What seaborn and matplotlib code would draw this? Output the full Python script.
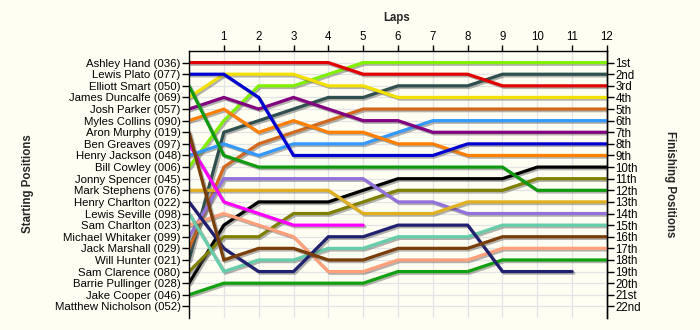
import matplotlib
matplotlib.use("Agg")
import matplotlib.pyplot as plt
import matplotlib.patheffects as pe
import numpy as np
import pandas as pd
import seaborn as sns

laps = list(range(13))
lap_ticks = list(range(1, 13))

starting_labels = [
    "Ashley Hand (036)", "Lewis Plato (077)", "Elliott Smart (050)",
    "James Duncalfe (069)", "Josh Parker (057)", "Myles Collins (090)",
    "Aron Murphy (019)", "Ben Greaves (097)", "Henry Jackson (048)",
    "Bill Cowley (006)", "Jonny Spencer (045)", "Mark Stephens (076)",
    "Henry Charlton (022)", "Lewis Seville (098)", "Sam Charlton (023)",
    "Michael Whitaker (099)", "Jack Marshall (029)", "Will Hunter (021)",
    "Sam Clarence (080)", "Barrie Pullinger (028)", "Jake Cooper (046)",
    "Matthew Nicholson (052)",
]
finishing_labels = [
    "1st", "2nd", "3rd", "4th", "5th", "6th", "7th", "8th", "9th", "10th",
    "11th", "12th", "13th", "14th", "15th", "16th", "17th", "18th", "19th",
    "20th", "21st", "22nd",
]

N = None
ashley_hand      = [1, 1, 1, 1, 1, 2, 2, 2, 2, 3, 3, 3, 3]
lewis_plato      = [2, 2, 4, 9, 9, 9, 9, 9, 8, 8, 8, 8, 8]
elliott_smart    = [3, 9, 10, 10, 10, 10, 10, 10, 10, 10, 12, 12, 12]
james_duncalfe   = [4, 2, 2, 2, 3, 3, 4, 4, 4, 4, 4, 4, 4]
josh_parker      = [5, 4, 5, 4, 5, 6, 6, 7, 7, 7, 7, 7, 7]
myles_collins    = [6, 5, 7, 6, 7, 7, 8, 8, 9, 9, 9, 9, 9]
aron_murphy      = [7, 18, 17, 17, 18, 18, 17, 17, 17, 16, 16, 16, 16]
ben_greaves      = [8, 13, 14, 15, 15, 15, N, N, N, N, N, N, N]
henry_jackson    = [9, 8, 9, 8, 8, 8, 7, 6, 6, 6, 6, 6, 6]
bill_cowley      = [10, 6, 3, 3, 2, 1, 1, 1, 1, 1, 1, 1, 1]
mark_stephens    = [12, 12, 12, 12, 12, 14, 14, 14, 13, 13, 13, 13, 13]
henry_charlton   = [13, 17, 19, 19, 16, 16, 15, 15, 15, 19, 19, 19, N]
lewis_seville    = [14, 19, 18, 18, 17, 17, 16, 16, 16, 15, 15, 15, 15]
sam_charlton     = [15, 14, 15, 16, 19, 19, 18, 18, 18, 17, 17, 17, 17]
michael_whitaker = [16, 11, 11, 11, 11, 11, 13, 13, 14, 14, 14, 14, 14]
jack_marshall    = [17, 10, 8, 7, 6, 5, 5, 5, 5, 5, 5, 5, 5]
will_hunter      = [18, 7, 6, 5, 4, 4, 3, 3, 3, 2, 2, 2, 2]
sam_clarence     = [19, 16, 16, 14, 14, 13, 12, 12, 12, 12, 11, 11, 11]
barrie_pullinger = [20, 15, 13, 13, 13, 12, 11, 11, 11, 11, 10, 10, 10]
jake_cooper      = [21, 20, 20, 20, 20, 20, 19, 19, 19, 18, 18, 18, 18]

series = {
    "Ashley Hand (036)": ashley_hand,
    "Lewis Plato (077)": lewis_plato,
    "Elliott Smart (050)": elliott_smart,
    "James Duncalfe (069)": james_duncalfe,
    "Josh Parker (057)": josh_parker,
    "Myles Collins (090)": myles_collins,
    "Aron Murphy (019)": aron_murphy,
    "Ben Greaves (097)": ben_greaves,
    "Henry Jackson (048)": henry_jackson,
    "Bill Cowley (006)": bill_cowley,
    "Mark Stephens (076)": mark_stephens,
    "Henry Charlton (022)": henry_charlton,
    "Lewis Seville (098)": lewis_seville,
    "Sam Charlton (023)": sam_charlton,
    "Michael Whitaker (099)": michael_whitaker,
    "Jack Marshall (029)": jack_marshall,
    "Will Hunter (021)": will_hunter,
    "Sam Clarence (080)": sam_clarence,
    "Barrie Pullinger (028)": barrie_pullinger,
    "Jake Cooper (046)": jake_cooper,
}

colors = {
    "Ashley Hand (036)": "#E00000",
    "Lewis Plato (077)": "#0000D0",
    "Elliott Smart (050)": "#109A10",
    "James Duncalfe (069)": "#F2E000",
    "Josh Parker (057)": "#800080",
    "Myles Collins (090)": "#FF8000",
    "Aron Murphy (019)": "#7A3E08",
    "Ben Greaves (097)": "#FF00FF",
    "Henry Jackson (048)": "#3399FF",
    "Bill Cowley (006)": "#80F000",
    "Mark Stephens (076)": "#E0B020",
    "Henry Charlton (022)": "#202070",
    "Lewis Seville (098)": "#66CDAA",
    "Sam Charlton (023)": "#FFA07A",
    "Michael Whitaker (099)": "#9370DB",
    "Jack Marshall (029)": "#D2691E",
    "Will Hunter (021)": "#2F4F4F",
    "Sam Clarence (080)": "#808000",
    "Barrie Pullinger (028)": "#000000",
    "Jake Cooper (046)": "#10A010",
}

rows = []
for name, vals in series.items():
    for lap, pos in zip(laps, vals):
        if pos is not None:
            rows.append({"lap": lap, "pos": pos, "driver": name})
df = pd.DataFrame(rows)

sns.set_theme(style="white")
plt.rcParams["font.family"] = ["Liberation Sans", "DejaVu Sans"]

bg = "#FFFEF3"
fig = plt.figure(figsize=(7, 3.3), dpi=100, facecolor=bg)
ax = fig.add_axes([189 / 700, 1 - 318 / 330, (607 - 189) / 700, (318 - 51) / 330])
ax.set_facecolor(bg)

sns.lineplot(data=df, x="lap", y="pos", hue="driver", palette=colors,
             hue_order=list(series.keys())[::-1], legend=False,
             estimator=None, sort=False, linewidth=2.3, ax=ax)
for ln in ax.lines:
    ln.set_path_effects([pe.SimpleLineShadow(offset=(1.2, -1.2), shadow_color="#555555", alpha=0.45),
                         pe.Normal()])
    ln.set_solid_joinstyle("miter")

ax.set_xlim(0, 12)
ax.set_ylim(23, 0)

ax.xaxis.tick_top()
ax.set_xticks(lap_ticks)
ax.set_xticklabels([str(t) for t in lap_ticks], fontsize=8.3)
ax.set_yticks(range(1, 23))
ax.set_yticklabels(starting_labels, fontsize=8.2)
ax.tick_params(axis="x", which="major", top=True, bottom=False, length=4.5, width=1, pad=1, colors="black")
ax.tick_params(axis="y", which="major", left=True, length=5, width=1, pad=1, colors="black")
ax.set_xlabel("")
ax.set_ylabel("")

ax.grid(True, color="#E4E4E4", linewidth=0.9)
ax.set_axisbelow(True)

for s in ["left", "right", "top"]:
    ax.spines[s].set_visible(True)
    ax.spines[s].set_color("black")
    ax.spines[s].set_linewidth(1)
ax.spines["bottom"].set_visible(False)

sec = ax.secondary_yaxis("right")
sec.set_yticks(range(1, 23))
sec.set_yticklabels(finishing_labels, fontsize=8.3)
sec.tick_params(axis="y", length=5, width=1, pad=1, colors="black")
sec.spines["right"].set_color("black")
sec.spines["right"].set_linewidth(1)

fig.text(397 / 700, 1 - 18 / 330, "Laps", ha="center", va="center",
         fontsize=8.3, fontweight="bold")
fig.text(28 / 700, 1 - 184 / 330, "Starting Positions", ha="center", va="center",
         rotation=90, fontsize=8.3, fontweight="bold")
fig.text(670 / 700, 1 - 184 / 330, "Finishing Positions", ha="center", va="center",
         rotation=270, fontsize=8.3, fontweight="bold")

fig.savefig("out.png", dpi=100, facecolor=bg)
